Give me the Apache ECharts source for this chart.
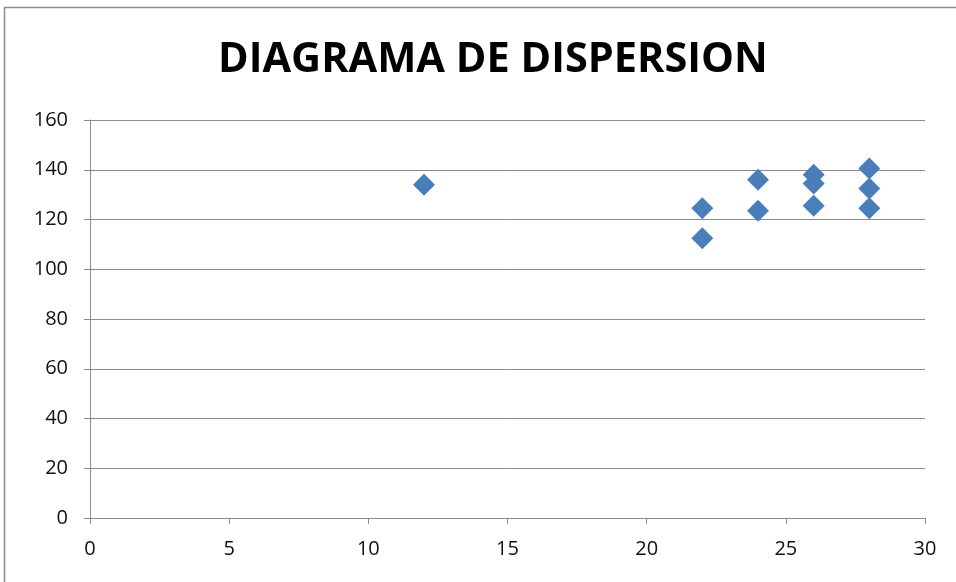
<!DOCTYPE html>
<html lang="en">
<head>
    <meta charset="utf-8">
    <script src="https://cdn.jsdelivr.net/npm/echarts@6/dist/echarts.min.js"></script>
    <style>
        body { margin: 0; background: #fff; }
        #chart { width: 956px; height: 582px; }
    </style>
</head>
<body>
    <div id="chart"></div>
    <script>
        // puntos (x, y)
        const xValues = [12, 22, 22, 24, 24, 26, 26, 26, 28, 28, 28]
        const yValues = [134, 124.5, 112.5, 136, 123.5, 138, 134.5, 125.5, 140.5, 132.5, 124.5]
        const xTicks = [0, 5, 10, 15, 20, 25, 30]
        const yTicks = [0, 20, 40, 60, 80, 100, 120, 140, 160]

        const points = xValues.map((x, i) => [x, yValues[i]])
        const labelFont = '"Open Sans", sans-serif'

        const chart = echarts.init(document.querySelector('#chart'))
        chart.setOption({
            animation: false,
            title: {
                text: 'DIAGRAMA DE DISPERSION',
                left: 213,
                top: 34,
                textStyle: { fontFamily: '"Open Sans", sans-serif', fontWeight: 'bold', fontSize: 41.5, color: '#000' }
            },
            graphic: [{
                type: 'rect',
                shape: { x: 4.5, y: 7.5, width: 1000, height: 700 },
                style: { fill: 'none', stroke: '#8c8c8c', lineWidth: 1.5 },
                silent: true
            }],
            grid: { left: 90, right: 31, top: 120, bottom: 64 },
            xAxis: {
                type: 'value',
                min: xTicks[0],
                max: xTicks[xTicks.length - 1],
                interval: 5,
                axisLine: { show: true, lineStyle: { color: '#8c8c8c' } },
                axisTick: { show: true, length: 6, lineStyle: { color: '#8c8c8c' } },
                splitLine: { show: false },
                axisLabel: { fontFamily: labelFont, fontSize: 20, color: '#111', margin: 21 }
            },
            yAxis: {
                type: 'value',
                min: yTicks[0],
                max: yTicks[yTicks.length - 1],
                interval: 20,
                axisLine: { show: true, lineStyle: { color: '#8c8c8c' } },
                axisTick: { show: true, length: 6, lineStyle: { color: '#8c8c8c' } },
                splitLine: { show: true, lineStyle: { color: '#8c8c8c' } },
                axisLabel: { fontFamily: labelFont, fontSize: 20, color: '#111', margin: 22 }
            },
            series: [{
                type: 'scatter',
                symbol: 'diamond',
                symbolSize: 22,
                itemStyle: { color: '#4a7ebb', opacity: 1 },
                data: points
            }]
        })
    </script>
</body>
</html>
